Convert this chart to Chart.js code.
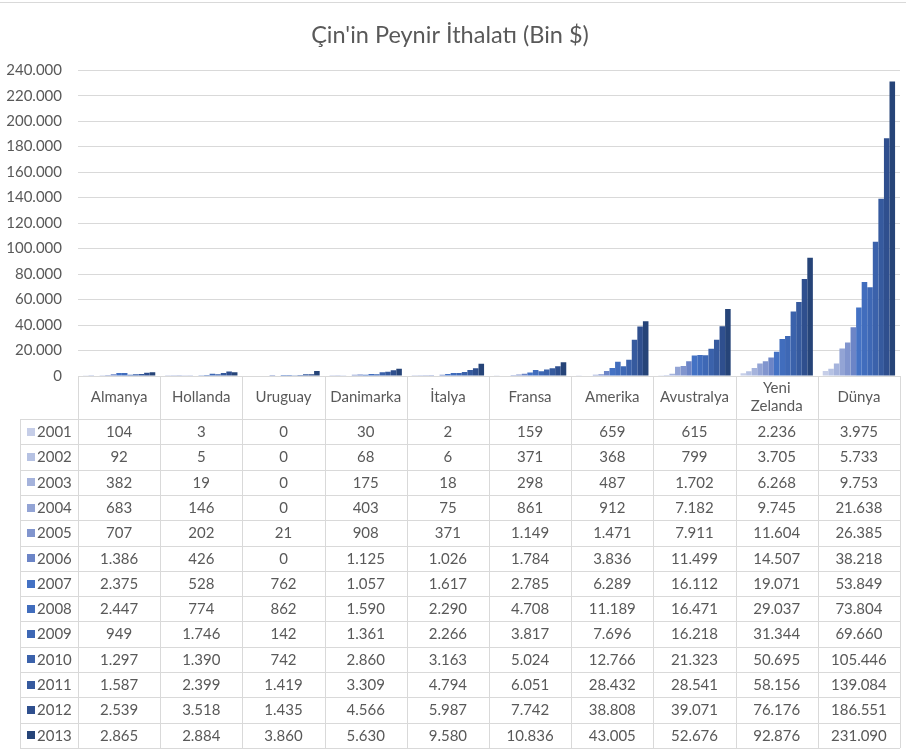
<!DOCTYPE html>
<html>
<head>
<meta charset="utf-8">
<script src="https://cdn.jsdelivr.net/npm/chart.js@4.4.1/dist/chart.umd.min.js"></script>
<style>
  html, body { margin: 0; padding: 0; background: #ffffff; }
  #wrap { position: relative; width: 906px; height: 749px; }
</style>
</head>
<body>
<div id="wrap"><canvas id="c" width="906" height="749"></canvas></div>
<script>
// ---- Data ----
const titleText = "Çin'in Peynir İthalatı (Bin $)";
const categories = ['Almanya', 'Hollanda', 'Uruguay', 'Danimarka', 'İtalya', 'Fransa', 'Amerika', 'Avustralya', 'Yeni Zelanda', 'Dünya'];
const years = ['2001', '2002', '2003', '2004', '2005', '2006', '2007', '2008', '2009', '2010', '2011', '2012', '2013'];

const v2001 = [104, 3, 0, 30, 2, 159, 659, 615, 2236, 3975];
const v2002 = [92, 5, 0, 68, 6, 371, 368, 799, 3705, 5733];
const v2003 = [382, 19, 0, 175, 18, 298, 487, 1702, 6268, 9753];
const v2004 = [683, 146, 0, 403, 75, 861, 912, 7182, 9745, 21638];
const v2005 = [707, 202, 21, 908, 371, 1149, 1471, 7911, 11604, 26385];
const v2006 = [1386, 426, 0, 1125, 1026, 1784, 3836, 11499, 14507, 38218];
const v2007 = [2375, 528, 762, 1057, 1617, 2785, 6289, 16112, 19071, 53849];
const v2008 = [2447, 774, 862, 1590, 2290, 4708, 11189, 16471, 29037, 73804];
const v2009 = [949, 1746, 142, 1361, 2266, 3817, 7696, 16218, 31344, 69660];
const v2010 = [1297, 1390, 742, 2860, 3163, 5024, 12766, 21323, 50695, 105446];
const v2011 = [1587, 2399, 1419, 3309, 4794, 6051, 28432, 28541, 58156, 139084];
const v2012 = [2539, 3518, 1435, 4566, 5987, 7742, 38808, 39071, 76176, 186551];
const v2013 = [2865, 2884, 3860, 5630, 9580, 10836, 43005, 52676, 92876, 231090];

const yTicksMin = 0;
const yTicksMax = 240000;
const yTicksStep = 20000;

// ---- Styling ----
const seriesValues = [v2001, v2002, v2003, v2004, v2005, v2006, v2007, v2008, v2009, v2010, v2011, v2012, v2013];
const colors = ['#c6cee8', '#b6c2e3', '#a5b3dc', '#93a4d5', '#8195ce', '#6c85c7', '#4472c4', '#416dbd', '#3e68b5', '#3b62ab', '#365a9e', '#2f4f8e', '#264478'];
const FONT = 'Lato, "Open Sans", "Noto Sans", sans-serif';
const TEXT = '#595959';
const LINE = '#d9d9d9';

function fmt(v) {
  return String(Math.round(v)).replace(/\B(?=(\d{3})+(?!\d))/g, '.');
}

const TABLE_LEFT = 20;
const HEADER_H = 43;
const TABLE_BOTTOM = 748;

const tablePlugin = {
  id: 'dataTable',
  afterDraw(chart) {
    const ctx = chart.ctx;
    const ca = chart.chartArea;
    const xs = chart.scales.x;
    const n = categories.length;
    const colW = (ca.right - ca.left) / n;
    const top = ca.bottom;
    const headBottom = top + HEADER_H;
    const rowH = (TABLE_BOTTOM - headBottom) / years.length;

    ctx.save();
    // outer top border of the chart
    ctx.strokeStyle = LINE;
    ctx.lineWidth = 1;
    ctx.beginPath();
    ctx.moveTo(0, 2.5); ctx.lineTo(chart.width, 2.5);
    ctx.stroke();

    // grid lines of the table
    ctx.beginPath();
    ctx.moveTo(ca.left, Math.round(top) + 0.5);
    ctx.lineTo(ca.right, Math.round(top) + 0.5);
    for (let i = 0; i <= n; i++) {
      const x = Math.round(ca.left + i * colW) + 0.5;
      ctx.moveTo(x, Math.round(top));
      ctx.lineTo(x, TABLE_BOTTOM);
    }
    for (let r = 0; r <= years.length; r++) {
      const y = Math.round(headBottom + r * rowH) + 0.5;
      ctx.moveTo(TABLE_LEFT, y);
      ctx.lineTo(ca.right, y);
    }
    ctx.moveTo(TABLE_LEFT + 0.5, Math.round(headBottom));
    ctx.lineTo(TABLE_LEFT + 0.5, TABLE_BOTTOM);
    ctx.stroke();

    // header labels (category names)
    ctx.fillStyle = TEXT;
    ctx.font = '15px ' + FONT;
    ctx.textAlign = 'center';
    ctx.textBaseline = 'middle';
    for (let i = 0; i < n; i++) {
      const cx = xs.getPixelForValue(i);
      const label = categories[i];
      let lines = [label];
      if (ctx.measureText(label).width > colW - 10 && label.indexOf(' ') > 0) {
        lines = label.split(' ');
      }
      const lh = 18;
      const cy = (top + headBottom) / 2;
      lines.forEach((ln, k) => {
        ctx.fillText(ln, cx, cy + (k - (lines.length - 1) / 2) * lh);
      });
    }

    // rows
    for (let r = 0; r < years.length; r++) {
      const cy = headBottom + (r + 0.5) * rowH;
      // legend key
      ctx.fillStyle = colors[r];
      ctx.fillRect(27, Math.round(cy - 4), 8, 8);
      ctx.fillStyle = TEXT;
      ctx.textAlign = 'left';
      ctx.fillText(years[r], 37, cy + 0.5);
      ctx.textAlign = 'center';
      for (let i = 0; i < n; i++) {
        ctx.fillText(fmt(seriesValues[r][i]), xs.getPixelForValue(i), cy + 0.5);
      }
    }
    ctx.restore();
  }
};

const datasets = years.map((yr, k) => ({
  label: yr,
  data: seriesValues[k],
  backgroundColor: colors[k],
  borderWidth: 0,
  categoryPercentage: 0.88,
  barPercentage: 1.0
}));

new Chart(document.getElementById('c'), {
  type: 'bar',
  data: { labels: categories, datasets: datasets },
  options: {
    responsive: false,
    animation: false,
    devicePixelRatio: 1,
    layout: { padding: { left: 0, right: 6, top: 0, bottom: 373 } },
    plugins: {
      legend: { display: false },
      tooltip: { enabled: false },
      title: {
        display: true,
        text: titleText,
        color: TEXT,
        font: { family: FONT, size: 23.5, weight: 'normal' },
        padding: { top: 21, bottom: 21 }
      }
    },
    scales: {
      x: {
        display: false,
        grid: { display: false }
      },
      y: {
        min: yTicksMin,
        max: yTicksMax,
        afterFit(scale) { scale.width = 78; },
        border: { display: false },
        grid: { color: LINE, drawTicks: false, lineWidth: 1 },
        ticks: {
          stepSize: yTicksStep,
          padding: 16,
          color: TEXT,
          font: { family: FONT, size: 15 },
          callback: (v) => fmt(v)
        }
      }
    }
  },
  plugins: [tablePlugin]
});
</script>
</body>
</html>
